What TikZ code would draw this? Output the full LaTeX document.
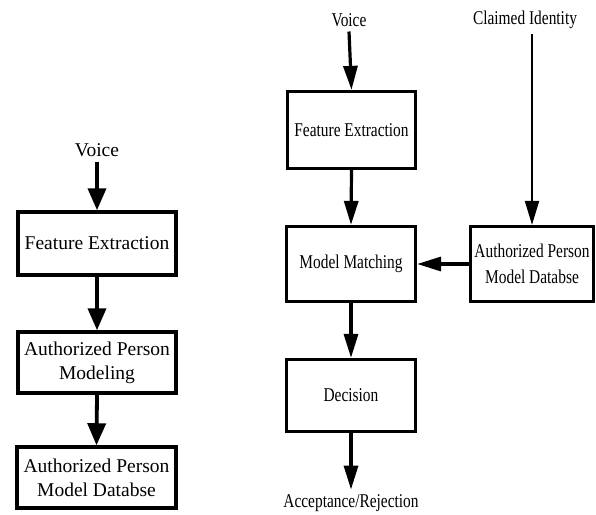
\documentclass[tikz,border=0pt]{standalone}
\usepackage{fontspec}
\setmainfont{Liberation Serif}
\newfontfamily\stretto[FakeStretch=0.79]{Liberation Serif}
\usetikzlibrary{arrows.meta,positioning}

\begin{document}
\begin{tikzpicture}[x=1pt, y=-1pt, line width=3.8pt,
  >={Triangle[length=22pt,width=18pt]},
  testo/.style={font=\fontsize{19.5}{24}\selectfont, inner sep=3pt},
  testodx/.style={font=\stretto\fontsize{19.5}{24}\selectfont, inner sep=3pt},
  blocco/.style={draw, line width=3.5pt, align=center, inner sep=0pt, font=\fontsize{19.5}{24}\selectfont},
  bloccodx/.style={blocco, line width=3.2pt, font=\stretto\fontsize{19.5}{26}\selectfont},
  frecciadx/.style={->, >={Triangle[length=24pt,width=14pt]}, line width=3.2pt}]
\useasboundingbox (0,0) rectangle (596,514);
% addestramento (sinistra)
\node[testo] (voce1) at (97,150) {Voice};
\node[blocco, minimum width=158pt, minimum height=63pt] (fe1) at (97,243.5) {Feature Extraction};
\node[blocco, minimum width=158pt, minimum height=61pt] (mod1) at (97,362.5) {Authorized Person\\Modeling};
\node[blocco, minimum width=159pt, minimum height=61pt] (db1) at (96.5,477.5) {Authorized Person\\Model Databse};
\draw[->] (voce1.south) -- (fe1.north);
\draw[->] (fe1.south) -- (mod1.north);
\draw[->] (mod1.south) -- (db1.north);
% verifica (destra)
\node[testodx] (voce2) at (349,20) {Voice};
\node[testodx] (ident) at (525,20) {Claimed Identity};
\node[bloccodx, minimum width=128pt, minimum height=77pt] (fe2) at (351.5,130) {Feature Extraction};
\node[bloccodx, minimum width=129pt, minimum height=75pt] (match) at (351,264) {Model Matching};
\node[bloccodx, minimum width=129pt, minimum height=72pt] (dec) at (351,395.5) {Decision};
\node[bloccodx, minimum width=123pt, minimum height=75pt] (db2) at (532,264) {Authorized Person\\Model Databse};
\node[testodx] (esito) at (351,503) {Acceptance/Rejection};
\draw[frecciadx] (voce2.south) -- (fe2.north);
\draw[frecciadx] (fe2.south) -- (match.north);
\draw[frecciadx] (match.south) -- (dec.north);
\draw[frecciadx] (dec.south) -- (esito.north);
\draw[frecciadx] (db2.west) -- (match.east);
\draw[frecciadx, line width=2pt] (ident.south -| db2.north) -- (db2.north);
\end{tikzpicture}
\end{document}
